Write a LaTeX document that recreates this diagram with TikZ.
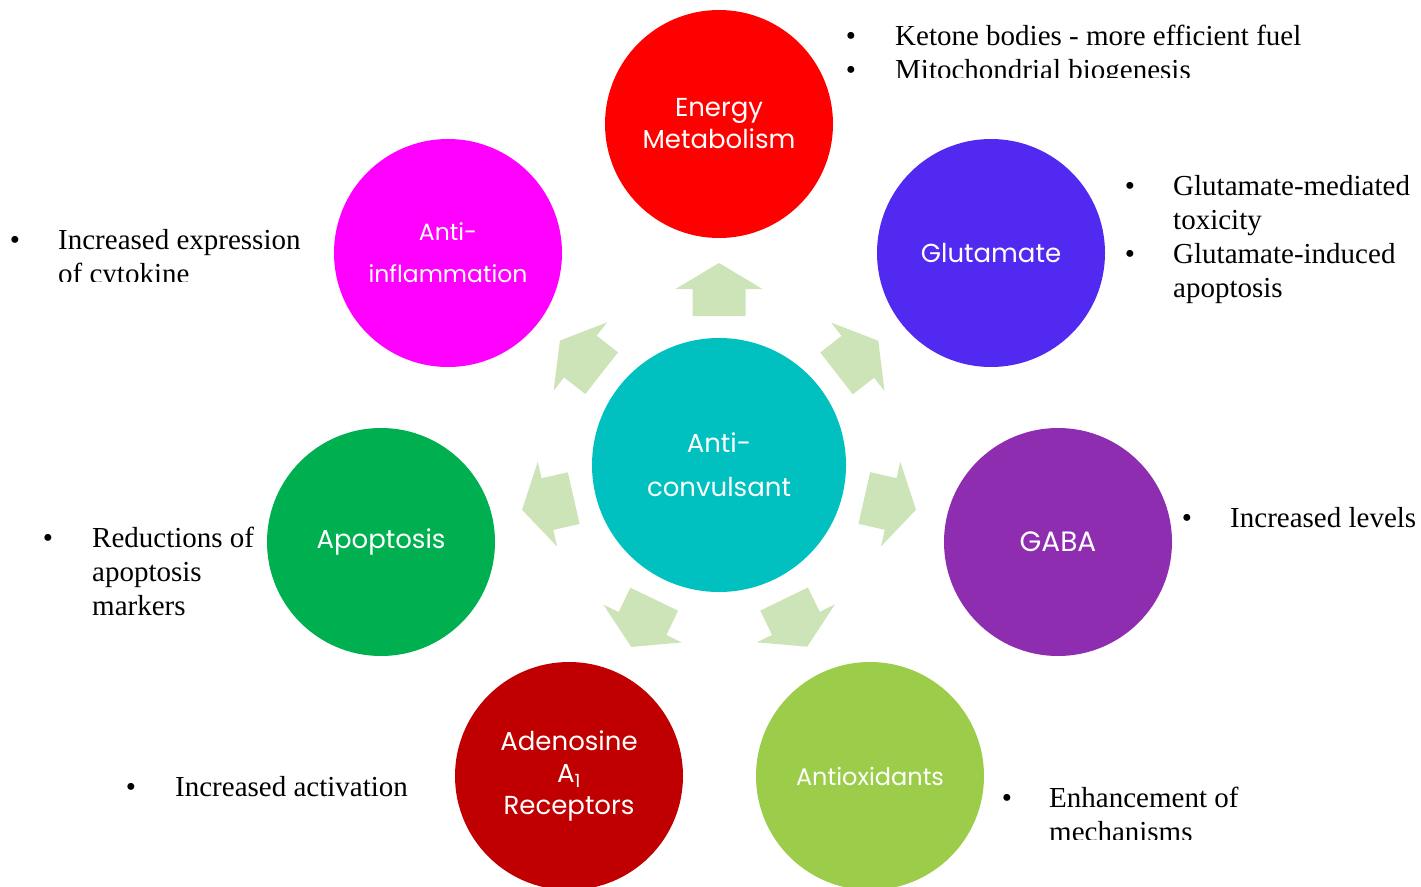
\documentclass[tikz,border=0pt]{standalone}
\usepackage{fontspec}
\setmainfont{Liberation Serif}
\newfontfamily\cfont{Poppins}
\usetikzlibrary{calc}
\definecolor{cteal}{RGB}{0,192,192}
\definecolor{cred}{RGB}{255,0,0}
\definecolor{cblue}{RGB}{82,41,240}
\definecolor{cpurple}{RGB}{142,45,176}
\definecolor{clime}{RGB}{155,205,75}
\definecolor{cdred}{RGB}{192,0,0}
\definecolor{cgreen}{RGB}{0,176,80}
\definecolor{cmag}{RGB}{255,0,255}
\definecolor{carrow}{RGB}{204,228,183}
\tikzset{
  bubble/.style={circle, minimum size=228pt, inner sep=0pt, text=white, align=center, font=\cfont\fontsize{26}{32}\selectfont},
  bt/.style={inner sep=0pt, font=\fontsize{29}{34}\selectfont},
  blk/.style={fill=carrow, draw=none}
}
\begin{document}
\begin{tikzpicture}[x=1pt,y=-1pt]
\useasboundingbox (0,0) rectangle (1421,886);
% circles
\node[bubble, fill=cteal, minimum size=254pt, font=\cfont\fontsize{26}{44}\selectfont] (cen) at (719,465) {Anti-\\convulsant};
\node[bubble, fill=cred] (en) at (719,124) {Energy\\Metabolism};
\node[bubble, fill=cblue] (gl) at (991,253) {Glutamate};
\node[bubble, fill=cpurple, font=\cfont\fontsize{28}{32}\selectfont] (ga) at (1058,542) {GABA};
\node[bubble, fill=clime, font=\cfont\fontsize{24}{32}\selectfont] (ax) at (870,776) {Antioxidants};
\node[bubble, fill=cdred] (ad) at (569,776) {Adenosine\\A\textsubscript{1}\\Receptors};
\node[bubble, fill=cgreen] (ap) at (381,542) {Apoptosis};
\node[bubble, fill=cmag, font=\cfont\fontsize{23.5}{42}\selectfont] (ai) at (448,253) {Anti-\\inflammation};
% block arrows
\foreach \c in {en,gl,ga,ax,ad,ap,ai}{
  \fill[blk] let \p1=($(\c)-(cen)$), \n1={atan2(\y1,\x1)} in
    ($(cen)+(\n1:149pt)+(\n1+90:26.5pt)$) -- ($(cen)+(\n1:176pt)+(\n1+90:26.5pt)$) --
    ($(cen)+(\n1:176pt)+(\n1+90:43.5pt)$) -- ($(cen)+(\n1:202pt)$) --
    ($(cen)+(\n1:176pt)+(\n1-90:43.5pt)$) -- ($(cen)+(\n1:176pt)+(\n1-90:26.5pt)$) --
    ($(cen)+(\n1:149pt)+(\n1-90:26.5pt)$) -- cycle;
}
% Energy text
\begin{scope}
\clip (800,0) rectangle (1421,77.5);
\node[bt, anchor=base] (eb1) at (851,45) {•};
\node[bt, anchor=base west] (et1) at (895,45) {Ketone bodies - more efficient fuel};
\node[bt, anchor=base] (eb2) at (851,79) {•};
\node[bt, anchor=base west] (et2) at (895,79) {Mitochondrial biogenesis};
\end{scope}
% Glutamate text
\node[bt, anchor=base] (gb1) at (1130,195) {•};
\node[bt, anchor=base west] (gt1) at (1173,195) {Glutamate-mediated};
\node[bt, anchor=base west] (gt2) at (1173,229) {toxicity};
\node[bt, anchor=base] (gb2) at (1130,263) {•};
\node[bt, anchor=base west] (gt3) at (1173,263) {Glutamate-induced};
\node[bt, anchor=base west] (gt4) at (1173,297) {apoptosis};
% GABA text
\node[bt, anchor=base] (sb1) at (1187,527) {•};
\node[bt, anchor=base west] (st1) at (1230,527) {Increased levels};
% Antioxidants text
\begin{scope}
\clip (950,760) rectangle (1421,839.5);
\node[bt, anchor=base] (xb1) at (1007,807) {•};
\node[bt, anchor=base west] (xt1) at (1049,807) {Enhancement of};
\node[bt, anchor=base west] (xt2) at (1049,841) {mechanisms};
\end{scope}
% Adenosine text
\node[bt, anchor=base] (db1) at (131,796) {•};
\node[bt, anchor=base west] (dt1) at (175,796) {Increased activation};
% Apoptosis text
\node[bt, anchor=base] (pb1) at (48,547) {•};
\node[bt, anchor=base west] (pt1) at (92,547) {Reductions of};
\node[bt, anchor=base west] (pt2) at (92,581) {apoptosis};
\node[bt, anchor=base west] (pt3) at (92,615) {markers};
% Anti-inflammation text
\begin{scope}
\clip (0,200) rectangle (330,281.5);
\node[bt, anchor=base] (ib1) at (15,249) {•};
\node[bt, anchor=base west] (it1) at (58,249) {Increased expression};
\node[bt, anchor=base west] (it2) at (58,283) {of cytokine};
\end{scope}
\end{tikzpicture}
\end{document}
